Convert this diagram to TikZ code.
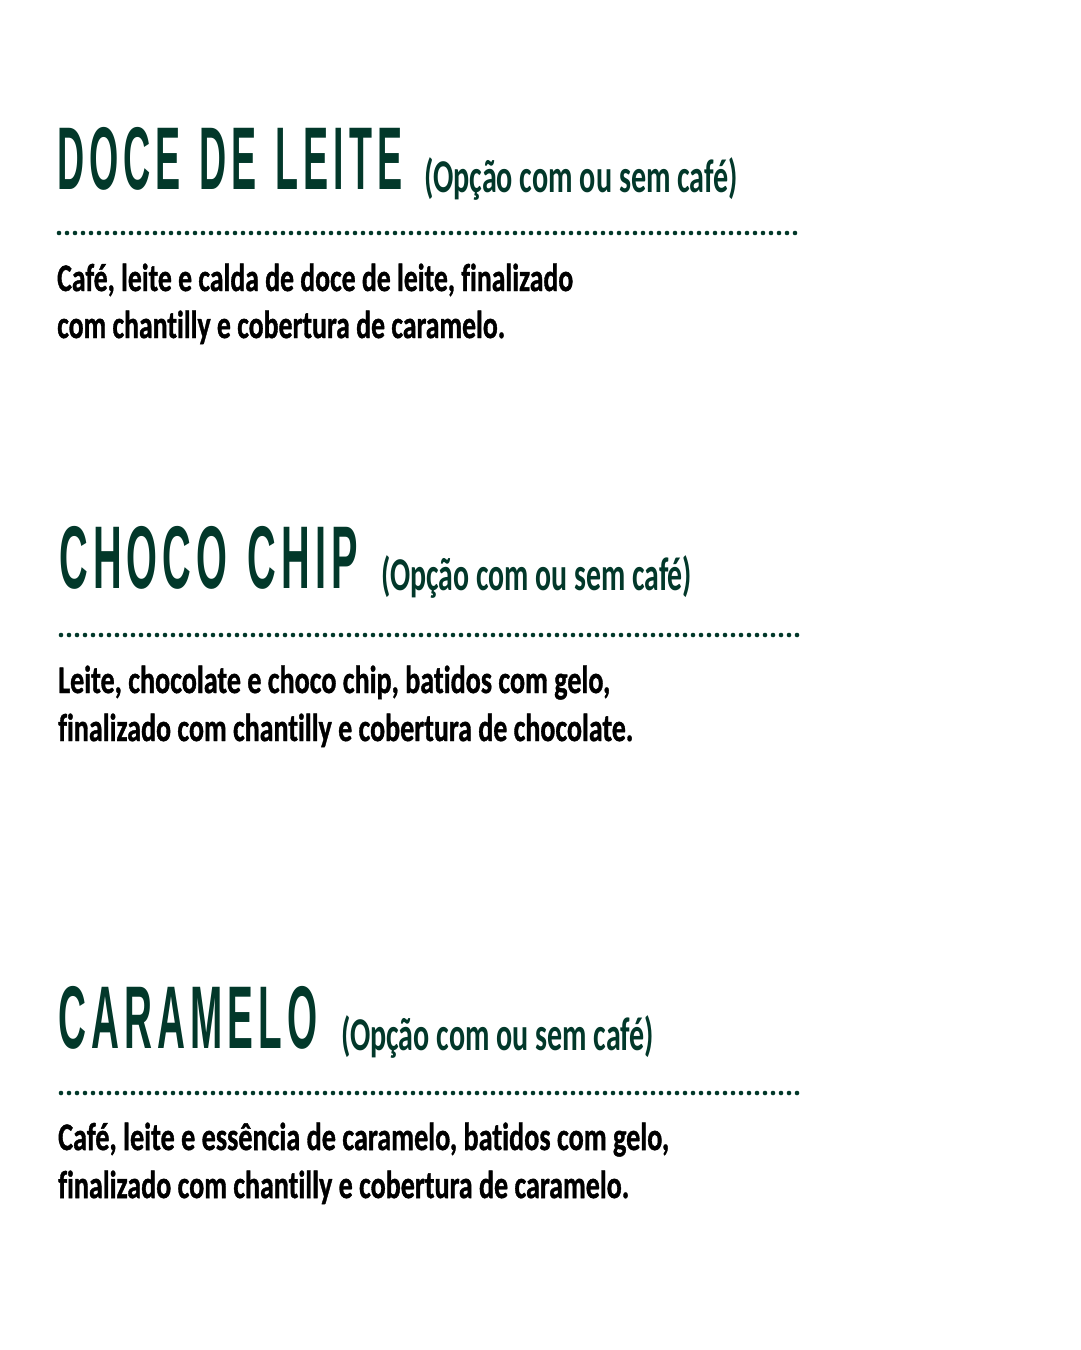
\documentclass[tikz,border=0pt]{standalone}
\usepackage{fontspec}
\usepackage{graphicx}
\setmainfont{Carlito}
\newfontfamily\titlefont{Liberation Sans}[FakeStretch=0.46,LetterSpace=6,BoldFont={Liberation Sans Bold}]
\newfontfamily\bodyfont{Carlito}[BoldFont={Carlito Bold},BoldFeatures={FakeBold=1.2},Ligatures=NoCommon]
\newfontfamily\subfont{Carlito}[BoldFont={Carlito Bold},Ligatures=NoCommon]
\definecolor{menugreen}{RGB}{2,56,42}
\newsavebox\fitbox
\newcommand\fitto[2]{\sbox\fitbox{#2}\pgfmathsetmacro\myfac{#1/\the\wd\fitbox}\scalebox{\myfac}[1]{\usebox\fitbox}}
\newcommand\wsp{\hspace{4pt}}
\tikzset{
  titletext/.style={anchor=base west, inner sep=0pt, text=menugreen, font=\titlefont\bfseries\fontsize{89}{89}\selectfont},
  subtext/.style={anchor=base west, inner sep=0pt, text=menugreen, font=\subfont\bfseries\fontsize{47}{47}\selectfont},
  desctext/.style={anchor=base west, inner sep=0pt, text=black, font=\bodyfont\bfseries\fontsize{39}{39}\selectfont},
  dotline/.style={draw=menugreen, line width=4.6pt, line cap=round, dash pattern=on 0pt off 8pt}
}
\begin{document}
\begin{tikzpicture}[x=1pt,y=-1pt]
\useasboundingbox (0,0) rectangle (1080,1350);
\fill[white] (0,0) rectangle (1080,1350);
% Section 1
\node[titletext] (t1) at (57,189) {\fitto{345}{DOCE \wsp DE \wsp LEITE}};
\node[subtext] (s1) at (424,192) {\fitto{314}{(Opção com ou sem café)}};
\coordinate (d1a) at (59,233);
\coordinate (d1b) at (795,233);
\draw[dotline] (d1a) -- (d1b);
\node[desctext] (p1a) at (57,291) {\fitto{516}{Café, leite e calda de doce de leite, finalizado}};
\node[desctext] (p1b) at (57,338) {\fitto{448}{com chantilly e cobertura de caramelo.}};
% Section 2
\node[titletext] (t2) at (59,588) {\fitto{299}{CHOCO \wsp CHIP}};
\node[subtext] (s2) at (381,590) {\fitto{311}{(Opção com ou sem café)}};
\coordinate (d2a) at (61,635);
\coordinate (d2b) at (797,635);
\draw[dotline] (d2a) -- (d2b);
\node[desctext] (p2a) at (58,693) {\fitto{552}{Leite, chocolate e choco chip, batidos com gelo,}};
\node[desctext] (p2b) at (58,741) {\fitto{575}{finalizado com chantilly e cobertura de chocolate.}};
% Section 3
\node[titletext] (t3) at (58,1048) {\fitto{259}{CARAMELO}};
\node[subtext] (s3) at (341,1050) {\fitto{313}{(Opção com ou sem café)}};
\coordinate (d3a) at (61,1093);
\coordinate (d3b) at (797,1093);
\draw[dotline] (d3a) -- (d3b);
\node[desctext] (p3a) at (58,1150) {\fitto{611}{Café, leite e essência de caramelo, batidos com gelo,}};
\node[desctext] (p3b) at (58,1198) {\fitto{571}{finalizado com chantilly e cobertura de caramelo.}};
\end{tikzpicture}
\end{document}
